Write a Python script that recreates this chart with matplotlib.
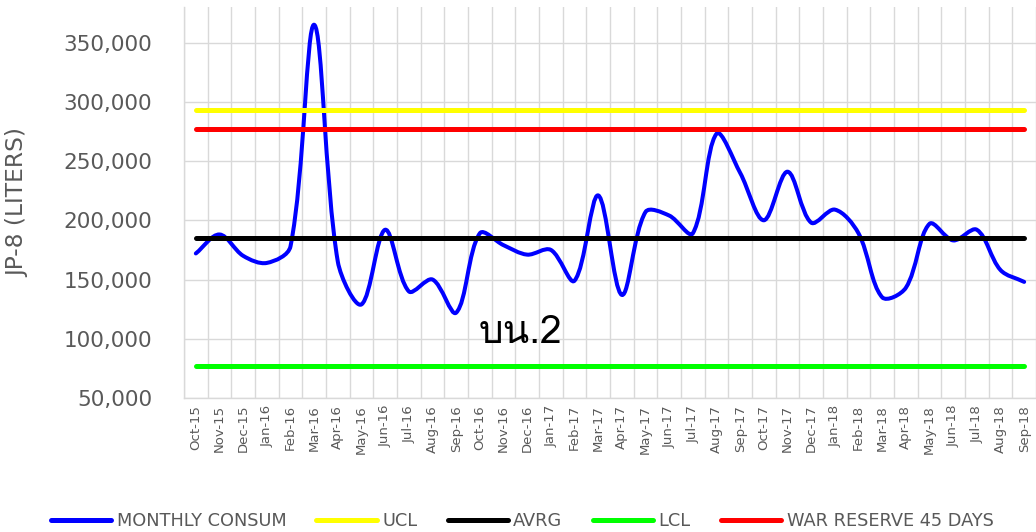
import matplotlib
matplotlib.use("Agg")
import matplotlib.pyplot as plt
from matplotlib import font_manager
from matplotlib.ft2font import FT2Font
from matplotlib.path import Path
from matplotlib.patches import PathPatch
from matplotlib.lines import Line2D
import numpy as np

months = ["Oct-15", "Nov-15", "Dec-15", "Jan-16", "Feb-16", "Mar-16", "Apr-16", "May-16",
          "Jun-16", "Jul-16", "Aug-16", "Sep-16", "Oct-16", "Nov-16", "Dec-16", "Jan-17",
          "Feb-17", "Mar-17", "Apr-17", "May-17", "Jun-17", "Jul-17", "Aug-17", "Sep-17",
          "Oct-17", "Nov-17", "Dec-17", "Jan-18", "Feb-18", "Mar-18", "Apr-18", "May-18",
          "Jun-18", "Jul-18", "Aug-18", "Sep-18"]
monthly = [172000, 188000, 170000, 164000, 178000, 365000, 165000, 129000,
           192000, 140000, 150000, 122000, 189000, 179000, 171000, 175000,
           149000, 221000, 137000, 207000, 204000, 189000, 273000, 240000,
           200000, 241000, 198000, 209000, 189000, 135000, 143000, 197000,
           183000, 192000, 158000, 148000]
ucl = 293000
avrg = 185000
lcl = 77000
war_reserve = 277000

gray = "#595959"
grid = "#d9d9d9"


def thai_font():
    # look for an installed font that has Thai glyphs
    for f in font_manager.fontManager.ttflist:
        try:
            if FT2Font(f.fname).get_char_index(0x0E1A):
                return f.name
        except Exception:
            pass
    return "DejaVu Sans"


fig = plt.figure(figsize=(10.36, 5.32), dpi=100)
ax = fig.add_axes([184 / 1036, 134 / 532, 852 / 1036, 391 / 532])
ymin, ymax = 50000, 380000

x = np.arange(len(months), dtype=float)
y = np.array(monthly, dtype=float)
n = len(x)

# spreadsheet-style smooth line: tangents weighted by segment length on screen
sx = 852 / n
sy = 391 / (ymax - ymin)
pts = np.column_stack([x * sx, (y - ymin) * sy])
seg = np.hypot(*np.diff(pts, axis=0).T)
out_c = []
in_c = []
for i in range(n):
    a = pts[max(i - 1, 0)]
    b = pts[min(i + 1, n - 1)]
    t = b - a
    dp = seg[i - 1] if i > 0 else 0.0
    dn = seg[i] if i < n - 1 else 0.0
    tot = dp + dn
    out_c.append(pts[i] + t * (dn / tot) / 3 if tot else pts[i])
    in_c.append(pts[i] - t * (dp / tot) / 3 if tot else pts[i])


def to_data(p):
    return (p[0] / sx, p[1] / sy + ymin)


verts = [to_data(pts[0])]
codes = [Path.MOVETO]
for i in range(n - 1):
    verts += [to_data(out_c[i]), to_data(in_c[i + 1]), to_data(pts[i + 1])]
    codes += [Path.CURVE4] * 3
ax.add_patch(PathPatch(Path(verts, codes), fill=False, edgecolor="#0000ff", lw=2.9,
                       capstyle="round", joinstyle="round", zorder=3))

for val, col in [(ucl, "#ffff00"), (avrg, "#000000"), (lcl, "#00ff00"), (war_reserve, "#ff0000")]:
    ax.plot([x[0], x[-1]], [val, val], color=col, lw=3.6, solid_capstyle="round", zorder=4)

ax.set_xlim(-0.5, n - 0.5)
ax.set_ylim(ymin, ymax)
ticks = list(range(50000, 350001, 50000))
ax.set_yticks(ticks)
ax.set_yticklabels([f"{v:,}" for v in ticks], fontsize=15.5, color=gray)
ax.set_xticks(x)
ax.set_xticklabels(months, rotation=90, fontsize=9.5, color=gray)
ax.set_xticks(np.arange(-0.5, n, 1), minor=True)
ax.tick_params(axis="both", which="both", length=0)
ax.tick_params(axis="y", pad=23)
ax.tick_params(axis="x", pad=5)
ax.grid(True, axis="y", color=grid, lw=1.0)
ax.grid(True, axis="x", which="minor", color=grid, lw=1.0)
ax.grid(False, axis="x", which="major")
for s in ["top", "right"]:
    ax.spines[s].set_visible(False)
for s in ["left", "bottom"]:
    ax.spines[s].set_color(grid)
    ax.spines[s].set_linewidth(1.0)

ax.set_ylabel("JP-8 (LITERS)", fontsize=16.8, color=gray)
ax.yaxis.set_label_coords(-0.182, 0.5)

ax.text(13.7, 105000, "บน.2", fontsize=28, color="black", ha="center", va="center",
        family=[thai_font(), "DejaVu Sans"], zorder=5)

handles = [Line2D([], [], color=c, lw=3.6, solid_capstyle="round")
           for c in ["#0000ff", "#ffff00", "#000000", "#00ff00", "#ff0000"]]
labels = ["MONTHLY CONSUM", "UCL", "AVRG", "LCL", "WAR RESERVE 45 DAYS"]
leg = fig.legend(handles, labels, loc="center", bbox_to_anchor=(0.504, 0.02), ncol=5,
                 frameon=False, fontsize=12.8, handlelength=3.4, handletextpad=0.3,
                 columnspacing=1.7)
for t in leg.get_texts():
    t.set_color(gray)

fig.savefig("out.png", dpi=100)
